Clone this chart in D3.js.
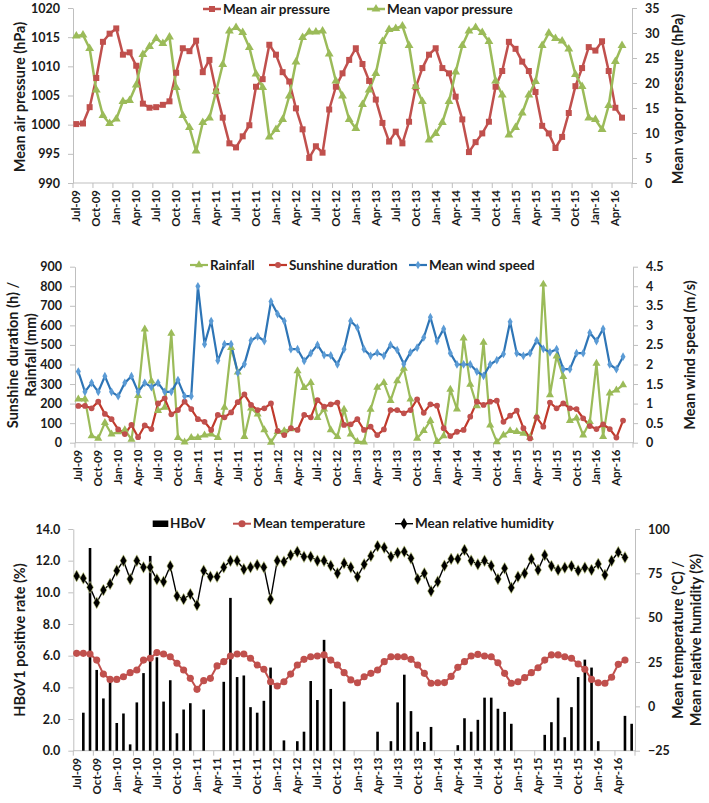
<!DOCTYPE html>
<html>
<head>
<meta charset="utf-8">
<script src="https://cdn.jsdelivr.net/npm/d3@7"></script>
<style>
  body { margin: 0; background: #fff; }
  text { font-family: Lato, "Open Sans", sans-serif; font-weight: bold; fill: #1a1a1a; }
</style>
</head>
<body>
<svg id="chart" width="709" height="803"></svg>
<script>
// Categories (monthly, Jul-09 .. Jun-16)
var months = ["Jul-09","Aug-09","Sep-09","Oct-09","Nov-09","Dec-09",
  "Jan-10","Feb-10","Mar-10","Apr-10","May-10","Jun-10","Jul-10","Aug-10","Sep-10","Oct-10","Nov-10","Dec-10",
  "Jan-11","Feb-11","Mar-11","Apr-11","May-11","Jun-11","Jul-11","Aug-11","Sep-11","Oct-11","Nov-11","Dec-11",
  "Jan-12","Feb-12","Mar-12","Apr-12","May-12","Jun-12","Jul-12","Aug-12","Sep-12","Oct-12","Nov-12","Dec-12",
  "Jan-13","Feb-13","Mar-13","Apr-13","May-13","Jun-13","Jul-13","Aug-13","Sep-13","Oct-13","Nov-13","Dec-13",
  "Jan-14","Feb-14","Mar-14","Apr-14","May-14","Jun-14","Jul-14","Aug-14","Sep-14","Oct-14","Nov-14","Dec-14",
  "Jan-15","Feb-15","Mar-15","Apr-15","May-15","Jun-15","Jul-15","Aug-15","Sep-15","Oct-15","Nov-15","Dec-15",
  "Jan-16","Feb-16","Mar-16","Apr-16","May-16","Jun-16"];

var tickLabels = ["Jul-09","Oct-09","Jan-10","Apr-10","Jul-10","Oct-10","Jan-11","Apr-11","Jul-11","Oct-11",
  "Jan-12","Apr-12","Jul-12","Oct-12","Jan-13","Apr-13","Jul-13","Oct-13","Jan-14","Apr-14","Jul-14","Oct-14",
  "Jan-15","Apr-15","Jul-15","Oct-15","Jan-16","Apr-16"];

// Panel 1
var airPressure = [1000.1,1000.2,1003.0,1008.0,1014.2,1015.6,1016.5,1012.0,1012.4,1010.1,
  1003.6,1002.9,1003.0,1003.4,1004.0,1008.9,1013.1,1012.6,1014.4,1009.0,
  1011.1,1005.7,1001.2,996.8,996.1,998.0,999.9,1006.5,1007.8,1013.7,
  1012.0,1009.0,1007.4,1002.8,999.2,994.3,996.3,995.2,1002.6,1006.5,
  1008.8,1011.1,1013.1,1010.4,1007.5,1004.3,1000.3,997.1,998.8,996.8,
  1000.5,1006.4,1009.7,1012.0,1013.1,1009.7,1008.8,1004.8,1000.9,995.3,
  997.0,998.5,1000.5,1006.5,1009.2,1014.2,1013.0,1010.8,1009.2,1005.6,
  999.8,998.5,996.0,997.9,1002.0,1006.6,1009.7,1013.3,1012.7,1014.3,
  1009.2,1002.9,1001.2];
var vaporPressure = [29.4,29.6,26.9,18.6,13.5,11.9,12.8,16.3,16.5,19.6,
  25.7,27.3,28.9,27.9,29.2,19.1,13.5,11.1,6.4,12.1,
  13.0,18.3,23.7,30.4,31.1,30.1,27.1,21.8,19.1,9.2,
  10.7,12.7,17.4,24.2,29.1,30.2,30.2,30.4,25.8,20.4,
  17.4,12.7,10.9,15.7,18.6,21.9,28.3,30.7,30.9,31.4,
  27.5,19.3,16.3,8.6,9.9,12.1,16.3,22.2,27.5,30.4,
  31.1,30.1,28.3,20.4,17.6,9.6,11.1,14.0,17.6,20.3,
  27.5,30.0,28.9,28.4,26.8,21.7,19.3,13.0,12.7,10.7,
  15.5,24.3,27.5];

// Panel 2
var rainfall = [223,223,34,22,102,44,55,65,17,240,
  581,315,164,180,559,26,3,26,26,39,
  44,26,181,486,360,31,176,146,65,2,
  56,61,70,367,281,307,128,172,65,31,
  170,43,5,3,170,283,307,215,316,380,
  222,22,61,113,5,35,273,171,534,298,
  188,513,90,4,39,61,56,48,27,136,
  810,244,443,338,113,125,39,107,406,31,
  253,269,295];
var sunshine = [188,188,176,210,147,120,68,44,91,28,
  88,70,201,227,145,167,210,172,120,107,
  65,142,130,155,207,247,193,167,176,201,
  61,39,74,65,142,130,218,184,196,205,
  91,94,120,65,82,39,68,167,167,150,
  167,222,153,196,189,74,34,56,65,133,
  210,193,210,215,107,138,164,74,22,130,
  82,205,176,201,176,172,125,85,70,94,
  70,26,113];
var windSpeed = [1.82,1.30,1.53,1.30,1.70,1.30,1.19,1.53,1.70,1.30,
  1.53,1.42,1.53,1.30,1.30,1.60,1.19,1.19,4.00,2.52,
  3.11,2.10,2.52,2.52,1.79,2.01,2.61,2.72,2.60,3.61,
  3.29,3.11,2.39,2.39,2.09,2.29,2.50,2.24,2.23,2.00,
  2.39,3.11,2.94,2.39,2.22,2.30,2.22,2.50,2.37,2.01,
  2.31,2.43,2.69,3.21,2.60,2.91,2.29,2.00,2.00,2.00,
  1.82,1.71,2.00,2.11,2.27,3.09,2.29,2.22,2.29,2.61,
  2.40,2.31,2.39,1.88,1.88,2.29,2.29,2.81,2.60,2.91,
  2.00,1.88,2.20];

// Panel 3
var hbov = [0,2.4,12.8,5.1,3.3,4.35,1.75,2.35,0.4,3.05,
  4.9,12.3,5.9,3.1,4.45,1.1,2.6,3.0,0,2.6,
  0,0,4.35,9.65,4.65,4.75,2.75,2.4,3.15,5.25,
  0,0.65,0,0.6,1.2,4.4,3.2,7.0,3.9,0,
  3.1,0,0,0,0,1.2,0,0.6,3.05,4.8,
  2.5,1.2,0.55,1.5,0,0,0,0.35,2.05,1.2,
  1.95,3.35,3.35,2.65,2.45,1.7,0,0,0,0,
  1.0,1.8,3.35,0.85,2.75,4.65,5.75,5.25,0.6,0,
  0,0,2.2,1.7];
var temperature = [29.9,29.9,29.5,26.1,18.2,15.2,15.2,16.7,19.0,20.5,
  26.1,27.1,30.3,29.5,28.0,24.3,20.5,15.8,9.6,14.5,
  15.8,22.8,25.2,28.4,29.5,29.5,27.1,23.3,20.9,13.9,
  11.5,13.9,18.2,23.3,26.5,28.0,28.4,29.0,26.1,23.3,
  19.0,14.9,13.3,16.7,18.6,20.5,25.2,28.0,28.0,28.0,
  26.5,23.3,18.6,13.0,13.3,13.4,16.9,22.0,25.2,28.4,
  29.3,28.4,28.0,24.6,18.6,13.0,13.9,16.2,19.0,21.8,
  26.1,29.0,29.0,28.0,27.1,23.9,20.9,15.2,13.3,13.0,
  16.4,23.7,26.1];
var humidity = [73.5,72.2,67.1,58.4,65.6,69.0,76.5,82.1,71.8,82.1,
  78.4,78.4,71.6,70.3,79.1,62.2,60.4,63.3,57.1,76.5,
  73.1,73.1,78.4,82.1,82.1,77.3,78.4,79.7,78.4,60.4,
  82.1,81.6,85.3,87.2,84.4,84.4,82.1,82.1,79.3,75.0,
  80.7,78.4,73.1,80.1,84.8,90.4,89.5,84.4,86.6,87.2,
  83.5,71.8,75.0,65.0,70.3,79.3,83.1,83.1,88.2,82.1,
  80.1,82.1,79.3,71.8,77.8,66.9,73.1,75.0,83.1,76.9,
  85.3,79.1,76.9,78.2,79.1,76.5,78.2,76.9,80.3,74.1,
  82.1,86.9,84.0];

var axisGrey = "#bfbfbf";
var svg = d3.select("#chart");

// Build one panel: band x scale, two y scales, axes
function drawPanel(p) {
  var x = d3.scaleBand().domain(months).range([p.left, p.right]);
  var yL = d3.scaleLinear().domain(p.yLeft).range([p.bottom, p.top]);
  var yR = d3.scaleLinear().domain(p.yRight).range([p.bottom, p.top]);
  var g = svg.append("g");

  // x axis: ticks between categories every 3 months, labels rotated
  g.append("line")
      .attr("x1", p.left).attr("x2", p.right)
      .attr("y1", p.bottom).attr("y2", p.bottom)
      .attr("stroke", axisGrey);
  var bounds = months.filter(function(m, i) { return i % 3 == 0; })
      .map(function(m) { return x(m); }).concat([p.right]);
  g.selectAll(".xt").data(bounds).enter().append("line")
      .attr("x1", function(d) { return d; }).attr("x2", function(d) { return d; })
      .attr("y1", p.bottom).attr("y2", p.bottom + 5)
      .attr("stroke", axisGrey);
  var xa = g.append("g")
      .attr("transform", "translate(0," + p.bottom + ")")
      .call(d3.axisBottom(x).tickValues(tickLabels).tickSize(0));
  xa.select(".domain").remove();
  xa.selectAll("text")
      .attr("transform", "rotate(-90)")
      .attr("x", -7).attr("y", 0).attr("dy", "0.35em")
      .style("text-anchor", "end")
      .style("font-size", "11.5px")
      .style("font-family", "Lato, sans-serif");

  // left axis
  var la = g.append("g")
      .attr("transform", "translate(" + p.left + ",0)")
      .call(d3.axisLeft(yL).tickValues(p.leftTicks).tickFormat(p.leftFmt)
            .tickSize(5).tickPadding(8).tickSizeOuter(0));
  // right axis
  var ra = g.append("g")
      .attr("transform", "translate(" + p.right + ",0)")
      .call(d3.axisRight(yR).tickValues(p.rightTicks).tickFormat(p.rightFmt)
            .tickSize(5).tickPadding(8).tickSizeOuter(0));
  [la, ra].forEach(function(a) {
    a.select(".domain").attr("stroke", axisGrey);
    a.selectAll(".tick line").attr("stroke", axisGrey);
    a.selectAll("text").style("font-size", "12.5px").style("font-family", "Lato, sans-serif");
  });

  var cx = function(i) { return x(months[i]) + x.bandwidth() / 2; };
  return {x: x, yL: yL, yR: yR, g: g, cx: cx};
}

function drawLine(P, values, y, color, width) {
  P.g.append("path")
      .datum(values)
      .attr("fill", "none")
      .attr("stroke", color)
      .attr("stroke-width", width)
      .attr("stroke-linejoin", "round")
      .attr("d", d3.line().x(function(d, i) { return P.cx(i); }).y(function(d) { return y(d); }));
}

function drawMarkers(P, values, y, type, size, fill, stroke) {
  P.g.append("g").selectAll("path")
      .data(values)
      .enter().append("path")
      .attr("transform", function(d, i) { return "translate(" + P.cx(i) + "," + y(d) + ")"; })
      .attr("d", d3.symbol().type(type).size(size))
      .attr("fill", fill)
      .attr("stroke", stroke || "none")
      .attr("stroke-width", 0.6);
}

function legendItem(x0, y, color, width, type, size, fill, label, len) {
  len = len || 18;
  svg.append("line").attr("x1", x0).attr("x2", x0 + len).attr("y1", y).attr("y2", y)
      .attr("stroke", color).attr("stroke-width", width);
  svg.append("path").attr("transform", "translate(" + (x0 + len / 2) + "," + y + ")")
      .attr("d", d3.symbol().type(type).size(size)).attr("fill", fill);
  svg.append("text").attr("x", x0 + len + 2).attr("y", y).attr("dy", "0.35em")
      .style("font-size", "13.5px").text(label);
}

function axisTitle(x, y, label) {
  svg.append("text")
      .attr("transform", "translate(" + x + "," + y + ") rotate(-90)")
      .attr("text-anchor", "middle").attr("dy", "0.35em")
      .style("font-size", "14.5px")
      .text(label);
}

var red = "#c0504d", green = "#9bbb59", blue = "#2e75b6";

// ---------- Panel 1: pressure ----------
var P1 = drawPanel({left: 73, right: 632, top: 8, bottom: 183,
  yLeft: [990, 1020], yRight: [0, 35],
  leftTicks: d3.range(990, 1021, 5), rightTicks: d3.range(0, 36, 5),
  leftFmt: d3.format("d"), rightFmt: d3.format("d")});
drawLine(P1, airPressure, P1.yL, red, 2.5);
drawLine(P1, vaporPressure, P1.yR, green, 2.5);
drawMarkers(P1, airPressure, P1.yL, d3.symbolSquare, 36, red);
drawMarkers(P1, vaporPressure, P1.yR, d3.symbolTriangle, 34, green);
legendItem(203, 9, red, 2.5, d3.symbolSquare, 36, red, "Mean air pressure");
legendItem(367, 9, green, 2.5, d3.symbolTriangle, 34, green, "Mean vapor pressure");
axisTitle(20, 97, "Mean air pressure (hPa)");
axisTitle(678, 99, "Mean vapor pressure (hPa)");

// ---------- Panel 2: rainfall, sunshine, wind ----------
var P2 = drawPanel({left: 75, right: 633, top: 266.7, bottom: 442.7,
  yLeft: [0, 900], yRight: [0, 4.5],
  leftTicks: d3.range(0, 901, 100), rightTicks: [0, 0.5, 1, 1.5, 2, 2.5, 3, 3.5, 4, 4.5],
  leftFmt: d3.format("d"), rightFmt: function(d) { return String(d); }});
drawLine(P2, rainfall, P2.yL, green, 2.2);
drawLine(P2, sunshine, P2.yL, "#c0392b", 2.2);
drawLine(P2, windSpeed, P2.yR, blue, 2.2);
drawMarkers(P2, rainfall, P2.yL, d3.symbolTriangle, 28, green);
drawMarkers(P2, sunshine, P2.yL, d3.symbolCircle, 26, red);
drawMarkers(P2, windSpeed, P2.yR, d3.symbolDiamond, 22, "#5b9bd5");
legendItem(190, 265, green, 2.2, d3.symbolTriangle, 28, green, "Rainfall");
legendItem(269, 265, "#c0392b", 2.2, d3.symbolCircle, 26, red, "Sunshine duration");
legendItem(409, 265, blue, 2.2, d3.symbolDiamond, 22, "#5b9bd5", "Mean wind speed");
svg.append("text")
    .attr("transform", "translate(13,355) rotate(-90)")
    .attr("text-anchor", "middle").attr("dy", "0.35em")
    .style("font-size", "14.5px").text("Sunshine duration (h) /");
axisTitle(31, 355, "Rainfall (mm)");
axisTitle(690, 355, "Mean wind speed (m/s)");

// ---------- Panel 3: HBoV, temperature, humidity ----------
var P3 = drawPanel({left: 73.3, right: 635, top: 529, bottom: 750.7,
  yLeft: [0, 14], yRight: [-25, 100],
  leftTicks: d3.range(0, 15, 2), rightTicks: d3.range(-25, 101, 25),
  leftFmt: d3.format(".1f"), rightFmt: d3.format("d")});
P3.g.append("g").selectAll("rect")
    .data(hbov)
    .enter().append("rect")
    .attr("x", function(d, i) { return P3.cx(i) - 1.3; })
    .attr("width", 2.6)
    .attr("y", function(d) { return P3.yL(d); })
    .attr("height", function(d) { return P3.yL(0) - P3.yL(d); })
    .attr("fill", "#000");
drawLine(P3, temperature, P3.yR, red, 2);
drawLine(P3, humidity, P3.yR, "#000", 1.4);
drawMarkers(P3, temperature, P3.yR, d3.symbolCircle, 40, red);
drawMarkers(P3, humidity, P3.yR, d3.symbolDiamond, 40, "#000", "#cfd88a");
svg.append("rect").attr("x", 152.7).attr("y", 520.5).attr("width", 15.6).attr("height", 6.5).attr("fill", "#000");
svg.append("text").attr("x", 170).attr("y", 523.7).attr("dy", "0.35em").style("font-size", "13.5px").text("HBoV");
legendItem(233, 523.7, red, 2, d3.symbolCircle, 40, red, "Mean temperature");
legendItem(395, 523.7, "#000", 1.4, d3.symbolDiamond, 40, "#000", "Mean relative humidity");
axisTitle(20, 640, "HBoV1 positive rate (%)");
axisTitle(678, 640, "Mean temperature (\u00B0C) /");
axisTitle(696, 640, "Mean relative  humidity (%)");
</script>
</body>
</html>
